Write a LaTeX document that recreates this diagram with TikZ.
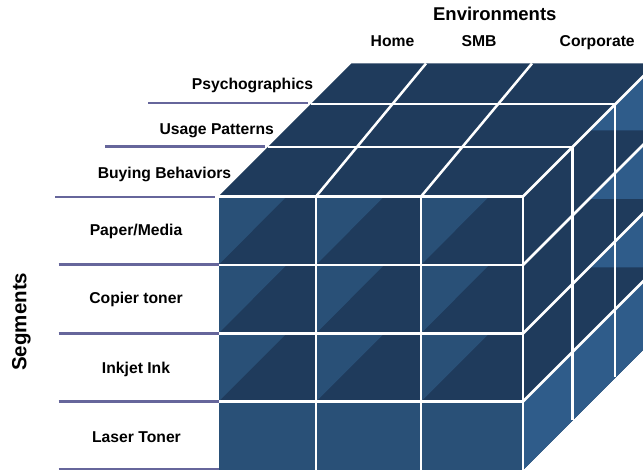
\documentclass[tikz,border=0pt]{standalone}
\usepackage{fontspec}
\setmainfont{Liberation Sans}
\definecolor{cubedark}{RGB}{31,59,92}
\definecolor{facelight}{RGB}{41,80,119}
\definecolor{sidelight}{RGB}{47,92,138}
\definecolor{rulecol}{RGB}{102,102,155}

\begin{document}
\begin{tikzpicture}[
    x=1pt, y=-1pt,
    lbl/.style = {font=\fontsize{15.7}{18}\selectfont\bfseries, anchor=base, inner sep=0pt},
    head/.style = {font=\fontsize{18.5}{22}\selectfont\bfseries, anchor=base, inner sep=0pt},
    grid/.style = {white, line width=2.5pt},
    rule/.style = {rulecol, line width=2.5pt},
    ]

  \useasboundingbox (0,0) rectangle (643,470);
  \clip (0,0) rectangle (643,470);

  % faces
  \fill[cubedark] (218.5,196.5) -- (523,196.5) -- (656,63.5) -- (351.5,63.5) -- cycle;
  \fill[cubedark] (523,196.5) -- (656,63.5) -- (656,337) -- (523,470) -- cycle;
  \fill[cubedark] (218.5,196.5) rectangle (523,470);

  % shading of the front cells
  \foreach \xa in {218.5,316,421}
    \foreach \ya/\yb in {196.5/265,265/333.5,333.5/401.5}
      \fill[facelight] (\xa,\ya) -- ++(68,0) -- (\xa,\yb) -- cycle;
  \fill[facelight] (218.5,401.5) rectangle (523,470);

  % shading of the side cells
  \foreach \ya in {196.5,265,333.5}
    \fill[sidelight] (589,\ya-66) -- (656,\ya-133) -- (656,\ya-66) -- cycle;
  \fill[sidelight] (523,401.5) -- (656,268.5) -- (656,337) -- (523,470) -- cycle;

  % grid
  \draw[white, line width=0.8pt] (218.5,196.5) -- (218.5,470);
  \foreach \y in {196.5,265,333.5,401.5}
    \draw[grid] (218.5,\y) -- (523,\y);
  \foreach \x in {316,421,523}
    \draw[grid] (\x,196.5) -- (\x,470);
  \draw[grid] (268,147) -- (572.5,147);
  \draw[grid] (311,104) -- (615,104);
  \draw[grid] (316,196.5) -- (426,63.5);
  \draw[grid] (421,196.5) -- (532,63.5);
  \draw[grid] (523,196.5) -- (656,63.5);
  \draw[grid] (572.5,147) -- (572.5,420.5);
  \draw[grid] (615,104) -- (615,377.5);
  \foreach \y in {265,333.5,401.5}
    \draw[grid] (523,\y) -- ++(133,-133);

  % rules under the labels
  \draw[rule] (148,103) -- ++(160,0);
  \draw[rule] (105,146.5) -- ++(160,0);
  \draw[rule] (55,197) -- ++(160,0);
  \foreach \y in {264.5,333.5,401.5,469.3}
    \draw[rule] (58.5,\y) -- ++(160,0);

  % labels
  \node[head] (env) at (494.8,20.7) {Environments};
  \node[lbl] (home) at (392.5,46.7) {Home};
  \node[lbl] (smb) at (479,46.7) {SMB};
  \node[lbl] (corp) at (597.2,46.7) {Corporate};

  \node[lbl] (psycho) at (252.5,90) {Psychographics};
  \node[lbl] (usage) at (216.7,135) {Usage Patterns};
  \node[lbl] (buying) at (164.5,179) {Buying Behaviors};

  \node[lbl] (paper) at (136,236) {Paper/Media};
  \node[lbl] (copier) at (136,304) {Copier toner};
  \node[lbl] (inkjet) at (136,374) {Inkjet Ink};
  \node[lbl] (laser) at (136.5,442.3) {Laser Toner};

  \node[head, rotate=90, font=\fontsize{20.5}{24}\selectfont\bfseries] (seg) at (26.5,321.7) {Segments};
\end{tikzpicture}
\end{document}
